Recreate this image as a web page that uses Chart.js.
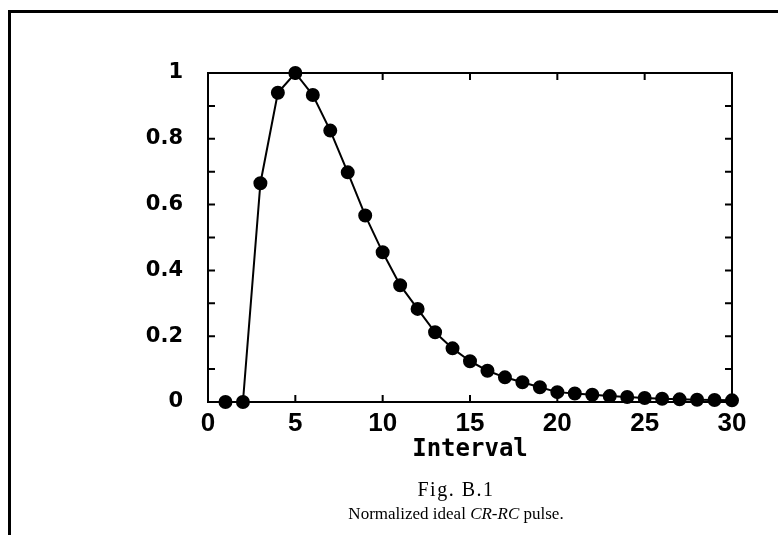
<!DOCTYPE html>
<html>
<head>
<meta charset="utf-8">
<script src="https://cdn.jsdelivr.net/npm/chart.js@4.4.1/dist/chart.umd.min.js"></script>
<style>
    body { margin: 0; background: #fff; }
    #wrap { position: relative; width: 778px; height: 535px; overflow: hidden; }
    #frame { position: absolute; left: 8px; top: 10px; right: -5px; bottom: -5px; border-top: 3px solid #000; border-left: 3px solid #000; }
    #chartBox { position: absolute; left: 0; top: 0; width: 778px; height: 535px; }
    .cap { position: absolute; left: 206px; width: 500px; text-align: center; font-family: "Liberation Serif", serif; color: #000; }
</style>
</head>
<body>
<div id="wrap">
    <div id="frame"></div>
    <div id="chartBox"><canvas id="pulseChart"></canvas></div>
    <div class="cap" style="top:477px; font-size:20px; letter-spacing:1.5px; line-height:24px">Fig. B.1</div>
    <div class="cap" style="top:503px; font-size:17px; line-height:22px">Normalized ideal <i>CR-RC</i> pulse.</div>
</div>
<script>
// values
const intervals = [1, 2, 3, 4, 5, 6, 7, 8, 9, 10, 11, 12, 13, 14, 15,
                   16, 17, 18, 19, 20, 21, 22, 23, 24, 25, 26, 27, 28, 29, 30];
const pulse = [0, 0, 0.665, 0.94, 1.0, 0.933, 0.825, 0.698, 0.567, 0.455, 0.355, 0.283, 0.212, 0.163, 0.124,
               0.095, 0.075, 0.06, 0.045, 0.03, 0.026, 0.022, 0.018, 0.015, 0.012, 0.01, 0.008, 0.007, 0.006, 0.005];

const xTicks = [0, 5, 10, 15, 20, 25, 30];
const xLabels = ['0', '5', '10', '15', '20', '25', '30'];
const yTicks = [0, 0.1, 0.2, 0.3, 0.4, 0.5, 0.6, 0.7, 0.8, 0.9, 1];
const yLabels = ['0', '', '0.2', '', '0.4', '', '0.6', '', '0.8', '', '1'];

// top/right frame and the little inward tick marks
const frameTicks = {
    id: 'frameTicks',
    beforeDatasetsDraw(chart) {
        const ctx = chart.ctx;
        const area = chart.chartArea;
        const x = chart.scales.x, y = chart.scales.y;
        ctx.save();
        ctx.strokeStyle = '#000';
        ctx.lineWidth = 2;
        ctx.beginPath();
        ctx.moveTo(area.left, area.top);
        ctx.lineTo(area.right, area.top);
        ctx.lineTo(area.right, area.bottom);
        ctx.stroke();
        ctx.beginPath();
        yTicks.forEach(v => {
            const py = y.getPixelForValue(v);
            ctx.moveTo(area.left, py);
            ctx.lineTo(area.left + 7, py);
            ctx.moveTo(area.right, py);
            ctx.lineTo(area.right - 7, py);
        });
        xTicks.forEach(v => {
            const px = x.getPixelForValue(v);
            ctx.moveTo(px, area.top);
            ctx.lineTo(px, area.top + 7);
            ctx.moveTo(px, area.bottom);
            ctx.lineTo(px, area.bottom - 7);
        });
        ctx.stroke();
        ctx.restore();
    }
};

var ctx_pulse = document.getElementById("pulseChart").getContext("2d");

new Chart(ctx_pulse, {
    type: 'line',
    data: {
        datasets: [{
            label: 'pulse',
            data: intervals.map((t, i) => ({ x: t, y: pulse[i] })),
            borderColor: '#000',
            backgroundColor: '#000',
            pointBackgroundColor: '#000',
            pointBorderColor: '#000',
            borderWidth: 2,
            pointRadius: 6,
            tension: 0,
            clip: false
        }]
    },
    options: {
        responsive: true,
        maintainAspectRatio: false,
        animation: false,
        layout: {
            padding: { left: 0, top: 73, right: 46, bottom: 71 }
        },
        scales: {
            x: {
                type: 'linear',
                min: 0,
                max: 30,
                afterBuildTicks: scale => { scale.ticks = xTicks.map(v => ({ value: v })); },
                afterFit: scale => { scale.height = 62; },
                ticks: {
                    color: '#000',
                    padding: 6,
                    maxRotation: 0,
                    font: { family: 'Liberation Sans', size: 26, weight: 'bold' },
                    callback: (v, i) => xLabels[i]
                },
                grid: { display: false, drawTicks: false },
                border: { display: true, color: '#000', width: 2 },
                title: {
                    display: true,
                    text: 'Interval',
                    color: '#000',
                    padding: 0,
                    font: { family: 'DejaVu Sans Mono', size: 24, weight: 'bold' }
                }
            },
            y: {
                min: 0,
                max: 1,
                afterBuildTicks: scale => { scale.ticks = yTicks.map(v => ({ value: v })); },
                afterFit: scale => { scale.width = 208; },
                ticks: {
                    color: '#000',
                    padding: 25,
                    font: { family: 'DejaVu Sans', size: 21, weight: 'bold' },
                    callback: (v, i) => yLabels[i]
                },
                grid: { display: false, drawTicks: false },
                border: { display: true, color: '#000', width: 2 }
            }
        },
        plugins: {
            legend: { display: false },
            tooltip: { enabled: false }
        }
    },
    plugins: [frameTicks]
});
</script>
</body>
</html>
